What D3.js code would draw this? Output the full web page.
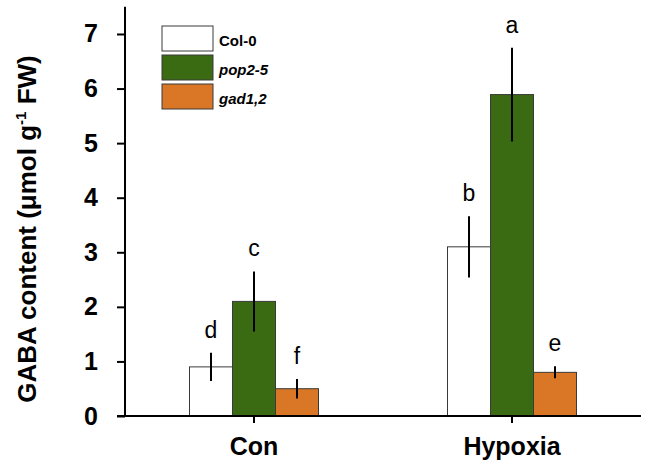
<!DOCTYPE html>
<html>
<head>
<meta charset="utf-8">
<script src="https://cdn.jsdelivr.net/npm/d3@7"></script>
<style>
  html, body { margin: 0; padding: 0; background: #fff; }
  svg { display: block; font-family: "Liberation Sans", Arial, sans-serif; }
</style>
</head>
<body>
<svg id="chart" width="648" height="467"></svg>
<script>
const groups = ["Con", "Hypoxia"];
const series = ["Col-0", "pop2-5", "gad1,2"];
const colors = ["#ffffff", "#3a6b13", "#d97726"];
const italicSeries = [false, true, true];
const means = {
  "Con":     [0.90, 2.10, 0.50],
  "Hypoxia": [3.10, 5.89, 0.80]
};
const errors = {
  "Con":     [0.26, 0.55, 0.18],
  "Hypoxia": [0.56, 0.86, 0.11]
};
const letters = {
  "Con":     ["d", "c", "f"],
  "Hypoxia": ["b", "a", "e"]
};
const yTicks = [0, 1, 2, 3, 4, 5, 6, 7];

const svg = d3.select("#chart");
const mLeft = 125, mRight = 641, mBottom = 416, mTop = 6.7;

const x0 = d3.scaleBand().domain(groups).range([mLeft, mRight]).padding(0);
const x1 = d3.scaleBand().domain(series).range([0, x0.bandwidth()])
  .paddingInner(0).paddingOuter(1.5);
const y = d3.scaleLinear().domain([0, 7.5]).range([mBottom, mTop]);

// bars
const g = svg.append("g");
groups.forEach(grp => {
  series.forEach((s, i) => {
    const xx = x0(grp) + x1(s);
    const v = means[grp][i], e = errors[grp][i];
    g.append("rect")
      .attr("x", xx).attr("y", y(v))
      .attr("width", x1.bandwidth()).attr("height", y(0) - y(v))
      .attr("fill", colors[i]).attr("stroke", "#3a3a3a").attr("stroke-width", 1);
    const cx = xx + x1.bandwidth() / 2;
    g.append("line")
      .attr("x1", cx).attr("x2", cx)
      .attr("y1", y(v + e)).attr("y2", y(v - e))
      .attr("stroke", "#000").attr("stroke-width", 2);
    g.append("text")
      .attr("x", cx).attr("y", y(v + e) - 15)
      .attr("text-anchor", "middle")
      .attr("font-size", 23)
      .attr("fill", "#000")
      .text(letters[grp][i]);
  });
});

// y axis
const yAxis = svg.append("g")
  .attr("transform", `translate(${mLeft},0)`)
  .call(d3.axisLeft(y).tickValues(yTicks).tickSize(8).tickPadding(19).tickFormat(d3.format("d")));
yAxis.select(".domain").attr("stroke", "#000").attr("stroke-width", 2).attr("d", `M0,${mTop}V${mBottom}`);
yAxis.selectAll(".tick line").attr("stroke", "#000").attr("stroke-width", 2);
yAxis.selectAll(".tick text").attr("font-size", 25).attr("font-weight", "bold")
  .attr("font-family", "Liberation Sans, Arial, sans-serif").attr("fill", "#000");

// x axis
const xAxis = svg.append("g")
  .attr("transform", `translate(0,${mBottom})`)
  .call(d3.axisBottom(x0).tickSize(7).tickPadding(14));
xAxis.select(".domain").attr("stroke", "#000").attr("stroke-width", 2).attr("d", `M${mLeft - 8},0H${mRight}`);
xAxis.selectAll(".tick line").attr("stroke", "#000").attr("stroke-width", 2);
xAxis.selectAll(".tick text").attr("font-size", 25).attr("font-weight", "bold")
  .attr("font-family", "Liberation Sans, Arial, sans-serif").attr("fill", "#000");

// y label
const yl = svg.append("text")
  .attr("transform", "translate(36,229) rotate(-90)")
  .attr("text-anchor", "middle")
  .attr("font-size", 26).attr("font-weight", "bold").attr("fill", "#000");
yl.append("tspan").text("GABA content (μmol g");
yl.append("tspan").attr("font-size", 15).attr("dy", -10).text("-1");
yl.append("tspan").attr("dy", 10).text(" FW)");

// legend
const leg = svg.append("g").attr("transform", "translate(162,26)");
series.forEach((s, i) => {
  const row = leg.append("g").attr("transform", `translate(0,${i * 29})`);
  row.append("rect").attr("width", 51).attr("height", 25)
    .attr("fill", colors[i]).attr("stroke", "#3a3a3a").attr("stroke-width", 1);
  row.append("text").attr("x", 57).attr("y", 20)
    .attr("font-size", 15).attr("font-weight", "bold")
    .attr("font-style", italicSeries[i] ? "italic" : "normal")
    .attr("fill", "#000").text(s);
});
</script>
</body>
</html>
